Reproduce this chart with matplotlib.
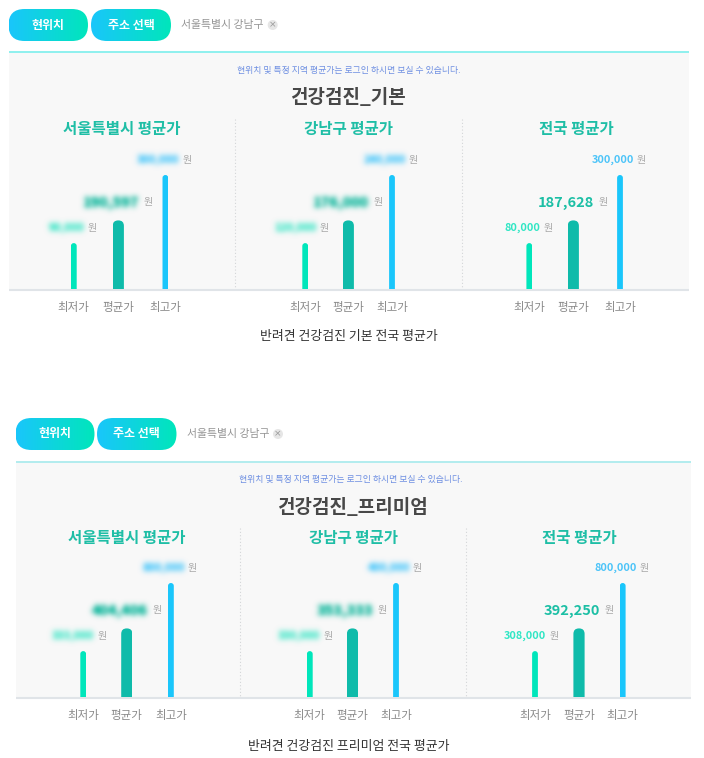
import numpy as np
import matplotlib
matplotlib.use("Agg")
import matplotlib.pyplot as plt
from matplotlib.colors import to_rgb
from matplotlib.patches import FancyBboxPatch, Rectangle, Circle

plt.rcParams['font.family'] = ['Noto Sans CJK KR', 'DejaVu Sans']

# ---- data ----
chart_titles = ["건강검진_기본", "건강검진_프리미엄"]
captions = ["반려견 건강검진 기본 전국 평균가", "반려견 건강검진 프리미엄 전국 평균가"]
regions = ["서울특별시 평균가", "강남구 평균가", "전국 평균가"]
categories = ["최저가", "평균가", "최고가"]
bar_levels = [40, 60, 100]   # the page draws fixed-height bars (percent)
basic_seoul = ["90,000", "190,597", "300,000"]
basic_gangnam = ["120,000", "176,000", "240,000"]
basic_national = ["80,000", "187,628", "300,000"]
premium_seoul = ["333,000", "404,406", "800,000"]
premium_gangnam = ["330,000", "353,333", "400,000"]
premium_national = ["308,000", "392,250", "800,000"]
notice = "현위치 및 특정 지역 평균가는 로그인 하시면 보실 수 있습니다."
address = "서울특별시 강남구"
buttons = ["현위치", "주소 선택"]
unit = "원"

W, H = 704, 758
PX = 0.72
C_LOW, C_AVG, C_HIGH = "#00e6bb", "#0fbbaa", "#1ac6fb"
C_LOW_T, C_AVG_T, C_HIGH_T = "#2fe6c4", "#1cbfa5", "#4cc4f8"


def blur(sigma, boost, color):
    k = np.exp(-0.5 * (np.arange(-int(3 * sigma), int(3 * sigma) + 1) / sigma) ** 2)
    k /= k.sum()
    pad = int(3 * sigma) + 2
    rgb = to_rgb(color)

    def f(im, dpi):
        a = np.zeros((im.shape[0] + 2 * pad, im.shape[1] + 2 * pad), dtype=float)
        a[pad:-pad, pad:-pad] = im[..., 3]
        a = np.apply_along_axis(lambda m: np.convolve(m, k, mode="same"), 0, a)
        a = np.apply_along_axis(lambda m: np.convolve(m, k, mode="same"), 1, a)
        out = np.zeros(a.shape + (4,), dtype=float)
        out[..., 0], out[..., 1], out[..., 2] = rgb
        out[..., 3] = np.clip(a * boost, 0, 1)
        return out, -pad, -pad
    return f


fig = plt.figure(figsize=(W / 100, H / 100), dpi=100, facecolor="white")
bg = fig.add_axes([0, 0, 1, 1])
bg.set_xlim(0, W)
bg.set_ylim(H, 0)
bg.axis("off")
grad = np.linspace(0, 1, 256).reshape(1, -1)
cmap = matplotlib.colors.LinearSegmentedColormap.from_list("g", [C_HIGH, C_LOW])


def pill(x0, x1, y0, y1, label):
    r = (y1 - y0) / 2
    p = FancyBboxPatch((x0 + r, y0 + r), x1 - x0 - 2 * r, 0.01,
                       boxstyle=f"round,pad={r - 0.01},rounding_size={r}", fc="none", ec="none")
    bg.add_patch(p)
    im = bg.imshow(grad, extent=(x0, x1, y1, y0), cmap=cmap, aspect="auto", zorder=2)
    im.set_clip_path(p)
    bg.text((x0 + x1) / 2, (y0 + y1) / 2, label, color="white", fontsize=12 * PX, weight="bold",
            ha="center", va="center", zorder=3)


def draw_chart(spec):
    for (x0, x1), label in zip(spec["pills"], buttons):
        pill(x0, x1, spec["pill_y"][0], spec["pill_y"][1], label)
    bg.text(spec["addr_x"], spec["pill_y"][0] + 16, address, color="#959595", fontsize=10.9 * PX,
            ha="left", va="center")
    cx, cy = spec["chip"]
    bg.add_patch(Circle((cx, cy), 5, fc="#e6e6e6", ec="none"))
    bg.text(cx, cy - 0.3, "×", color="#999999", fontsize=9 * PX, ha="center", va="center", family="DejaVu Sans")

    L, R, T, B = spec["panel"]
    bg.add_patch(Rectangle((L, T), R - L, B - T, fc="#f8f8f8", ec="none", zorder=0))
    bg.plot([L, R], [T, T], color=spec["top"], lw=1.4, solid_capstyle="butt")
    bg.plot([L, R], [B + 1, B + 1], color="#e0e4e8", lw=1.5, solid_capstyle="butt", zorder=4)
    for dx in spec["dividers"]:
        bg.plot([dx, dx], [spec["div_top"], B], color="#d4d6d8", lw=0.8, ls=(0, (1, 2)))

    bg.text(spec["notice_x"], T + 18.3, notice, color="#6f90e2", fontsize=8.85 * PX, weight="medium",
            ha="center", va="center")
    bg.text(spec["title_x"], T + 45.5, spec["title"], color="#484848", fontsize=19 * PX, weight="bold",
            ha="center", va="center")
    bg.text(349, spec["caption_y"], spec["caption"], color="#333333", fontsize=12.9 * PX,
            ha="center", va="center")

    # bars: axes spanning the panel, x scale in px, y scale in percent
    ax = fig.add_axes([L / W, 1 - B / H, (R - L) / W, 113.5 / H])
    ax.set_xlim(L, R)
    ax.set_ylim(0, 100)
    ax.axis("off")
    ax.patch.set_alpha(0)
    colors = [C_LOW, C_AVG, C_HIGH]
    widths = [5.8, 11.2, 5.8]
    text_cols = [C_LOW_T, C_AVG_T, C_HIGH_T]
    blur_cols = ["#55e8cd", "#2cbfa8", "#5fcdfa"]
    sizes = [10.9, 14.5, 10.9]
    offs_val = [10.7, 20.7, 13.7]
    offs_unit = [18.8, 30, 21.6]
    lab_y = [B - 60.5, B - 86, B - 129]
    for g, (region, vals, xs) in enumerate(zip(regions, spec["values"], spec["xs"])):
        bg.text(spec["head_x"][g], T + 77, region, color="#1fbea6", fontsize=15.5 * PX, weight="bold",
                ha="center", va="center")
        for i, (x, level) in enumerate(zip(xs, bar_levels)):
            w = widths[i]
            bar = ax.bar(x, level, width=w, color=colors[i], linewidth=0, zorder=3)[0]
            bh = 113.5 * level / 100
            r = w / 2 if i != 1 else 5.5
            clip = FancyBboxPatch((x - w / 2 + r, B - bh + r), w - 2 * r + 0.01, bh + 10,
                                  boxstyle=f"round,pad={r - 0.01},rounding_size={r}",
                                  transform=bg.transData, fc="none", ec="none")
            bar.set_clip_path(clip)
            t = bg.text(x + offs_val[i], lab_y[i], vals[i], color=text_cols[i], fontsize=sizes[i] * PX,
                        weight="bold", ha="right", va="center", zorder=5)
            if not spec["visible"][g]:
                t.set_agg_filter(blur(2.8, 1.7, blur_cols[i]))
            bg.text(x + offs_unit[i], lab_y[i], unit, color="#a8a8a8", fontsize=10 * PX,
                    ha="center", va="center")
            bg.text(x, B + 19, categories[i], color="#8a8a8a", fontsize=11.5 * PX,
                    ha="center", va="center")


charts = [
    dict(title=chart_titles[0], caption=captions[0], caption_y=336.5,
         pills=[(8.5, 88), (91, 171)], pill_y=(9, 41), addr_x=181, chip=(272.7, 25),
         panel=(8.5, 689, 52, 288.5), top="#8ef0ee", dividers=[234.7, 462.3], div_top=119,
         notice_x=349, title_x=349, head_x=[121.5, 349, 576],
         values=[basic_seoul, basic_gangnam, basic_national],
         xs=[[73.8, 118.3, 165.4], [305.2, 348.3, 392], [529.3, 573.3, 620]],
         visible=[False, False, True]),
    dict(title=chart_titles[1], caption=captions[1], caption_y=746.5,
         pills=[(15.5, 94.5), (97, 176.5)], pill_y=(418, 450), addr_x=187, chip=(278, 434),
         panel=(15.5, 691, 461.5, 696.5), top="#b2ecee", dividers=[240, 465.7], div_top=528,
         notice_x=351, title_x=353, head_x=[127, 353.5, 579],
         values=[premium_seoul, premium_gangnam, premium_national],
         xs=[[83.2, 126.8, 170.9], [309.8, 352.5, 396], [535, 579, 622.7]],
         visible=[False, False, True]),
]
for spec in charts:
    draw_chart(spec)

bg.set_xlim(0, W)
bg.set_ylim(H, 0)
fig.savefig("out.png", dpi=100, facecolor="white")
